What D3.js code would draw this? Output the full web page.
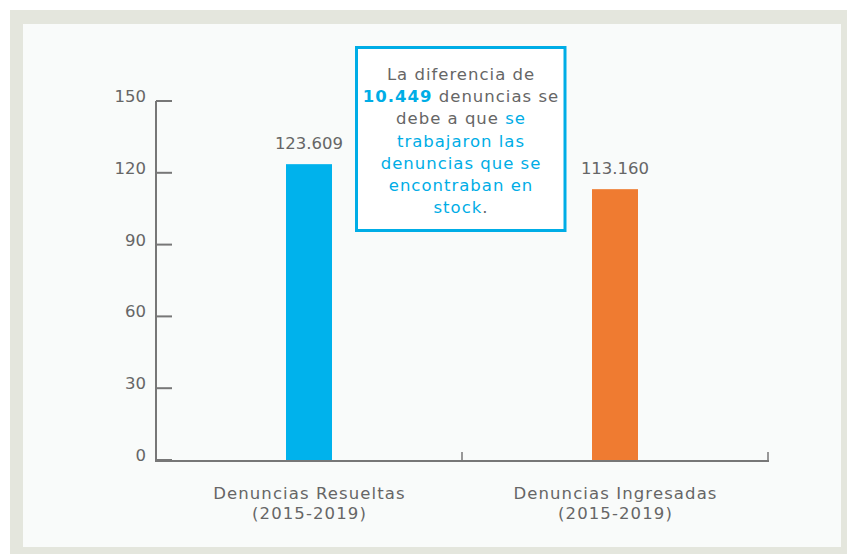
<!DOCTYPE html>
<html><head><meta charset="utf-8">
<script src="https://cdn.jsdelivr.net/npm/d3@7"></script>
<style>
html,body{margin:0;padding:0;background:#fff;}
text{font-family:"DejaVu Sans",sans-serif;}
</style></head>
<body><svg id="c" width="847" height="554"></svg>
<script>
const categories = ["Denuncias Resueltas|(2015-2019)", "Denuncias Ingresadas|(2015-2019)"];
const values = [123.609, 113.160];
const valueLabels = ["123.609", "113.160"];
const barColors = ["#00b2ec", "#ef7b31"];
const yTicks = [0, 30, 60, 90, 120, 150];
const note = [
  [["La diferencia de", "g", 400]],
  [["10.449", "b", 700], [" denuncias se", "g", 400]],
  [["debe a que ", "g", 400], ["se", "b", 400]],
  [["trabajaron las", "b", 400]],
  [["denuncias que se", "b", 400]],
  [["encontraban en", "b", 400]],
  [["stock", "b", 400], [".", "g", 400]]
];

const svg = d3.select("#c");
const grey = "#666666", blue = "#00ade6";
const fs = 16.5;
svg.append("rect").attr("x",10).attr("y",10).attr("width",837).attr("height",544).attr("fill","#e4e6dd");
svg.append("rect").attr("x",23).attr("y",24).attr("width",818).attr("height",523).attr("fill","#f9fbfa");

const x = d3.scaleBand().domain(categories).range([156, 768]).padding(0);
const y = d3.scaleLinear().domain([0, 150]).range([460, 101]);
const bw = 46;

svg.selectAll(".bar").data(values).join("rect")
  .attr("x", (d,i) => x(categories[i]) + x.bandwidth()/2 - bw/2)
  .attr("width", bw)
  .attr("y", d => y(d))
  .attr("height", d => y(0) - y(d))
  .attr("fill", (d,i) => barColors[i]);

const ya = svg.append("g");
ya.append("line").attr("x1",156).attr("x2",156).attr("y1",y(150)).attr("y2",y(0)+1.5).attr("stroke","#777").attr("stroke-width",2);
yTicks.forEach(t => {
  ya.append("line").attr("x1",156).attr("x2",172).attr("y1",y(t)).attr("y2",y(t)).attr("stroke","#777").attr("stroke-width",2);
  ya.append("text").attr("x",146).attr("y",y(t)+1).attr("text-anchor","end")
    .attr("font-size",fs).attr("fill",grey).text(t);
});

svg.append("line").attr("x1",155).attr("x2",769).attr("y1",461).attr("y2",461).attr("stroke","#777").attr("stroke-width",2);
[x(categories[1]), 768].forEach(px => {
  svg.append("line").attr("x1",px).attr("x2",px).attr("y1",452).attr("y2",461).attr("stroke","#777").attr("stroke-width",1.5);
});

svg.selectAll(".vl").data(values).join("text")
  .attr("x", (d,i) => x(categories[i]) + x.bandwidth()/2)
  .attr("y", d => y(d) - 15)
  .attr("text-anchor","middle").attr("font-size",fs).attr("fill",grey)
  .text((d,i) => valueLabels[i]);

categories.forEach(c => {
  const cx = x(c) + x.bandwidth()/2 + 0.5;
  const t = svg.append("text").attr("x", cx).attr("y", 499)
    .attr("text-anchor","middle").attr("font-size",fs).attr("fill",grey).attr("letter-spacing",1.1);
  c.split("|").forEach((l,j) => t.append("tspan").attr("x", cx).attr("dy", j?19.5:0).text(l));
});

svg.append("rect").attr("x",356.5).attr("y",47.5).attr("width",208.5).attr("height",183)
  .attr("fill","#fff").attr("stroke",blue).attr("stroke-width",3);
note.forEach((line,i) => {
  const t = svg.append("text").attr("x",461).attr("y",80 + i*22.2).attr("text-anchor","middle")
    .attr("font-size",fs).attr("letter-spacing",1);
  line.forEach(([s,c,w]) => t.append("tspan").attr("fill", c==="b"?blue:grey).attr("font-weight",w).text(s));
});
</script></body></html>
